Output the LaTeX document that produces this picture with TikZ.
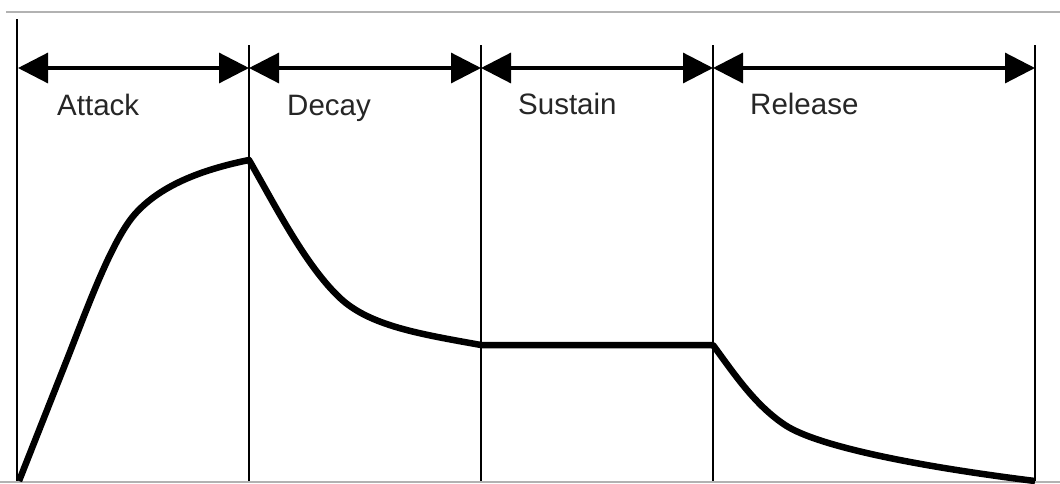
\documentclass[tikz,border=0pt]{standalone}
\usepackage{fontspec}
\setmainfont{Liberation Sans}
\usetikzlibrary{arrows.meta}
\begin{document}
\begin{tikzpicture}[x=1pt,y=-1pt,
  frame/.style={draw=black,line width=2.6pt},
  span/.style={draw=black,line width=3.2pt,{Triangle[length=30pt,width=30pt]}-{Triangle[length=30pt,width=30pt]}},
  env/.style={draw=black,line width=6.5pt,line join=round},
  lbl/.style={anchor=base west,inner sep=0pt,font=\fontsize{29.5}{35}\selectfont,text=black!85},
  rule/.style={draw=black!30,line width=1.8pt}]
\useasboundingbox (0,0) rectangle (1060,483);
\fill[white] (0,0) rectangle (1060,483);
% gray rules
\coordinate (tl) at (6,12); \coordinate (tr) at (1060,12);
\coordinate (bl) at (0,482); \coordinate (br) at (1060,482);
\draw[rule] (tl) -- (tr);
\draw[rule] (bl) -- (br);
% vertical lines
\coordinate (v0t) at (17,19);  \coordinate (v0b) at (17,481);
\coordinate (v1t) at (249,45); \coordinate (v1b) at (249,481);
\coordinate (v2t) at (481,45); \coordinate (v2b) at (481,481);
\coordinate (v3t) at (713,45); \coordinate (v3b) at (713,481);
\coordinate (v4t) at (1035,45); \coordinate (v4b) at (1035,481);
\foreach \i in {0,...,4} {\draw[frame] (v\i t) -- (v\i b);}
% arrows
\coordinate (a0) at (18,68); \coordinate (a1) at (249,68);
\coordinate (a2) at (481,68); \coordinate (a3) at (713,68);
\coordinate (a4) at (1035,68);
\draw[span] (a0) -- (a1);
\draw[span] (a1) -- (a2);
\draw[span] (a2) -- (a3);
\draw[span] (a3) -- (a4);
% labels
\node[lbl] (attack) at (57,115) {Attack};
\node[lbl] (decay) at (287,115) {Decay};
\node[lbl] (sustain) at (518,114) {Sustain};
\node[lbl] (release) at (750,114) {Release};
% envelope
\coordinate (p0) at (19,481);
\coordinate (p1) at (249,160);
\coordinate (p2) at (481,345);
\coordinate (p3) at (713,345);
\coordinate (p4) at (1035,481);
\draw[env] (p0) -- (68,357)
  .. controls (88,306) and (112,240) .. (135,214)
  .. controls (160,186) and (200,170) .. (p1)
  .. controls (275,205) and (305,265) .. (340,298)
  .. controls (370,326) and (420,334) .. (p2)
  -- (p3)
  .. controls (735,375) and (755,405) .. (785,425)
  .. controls (820,448) and (930,468) .. (p4);
\end{tikzpicture}
\end{document}
